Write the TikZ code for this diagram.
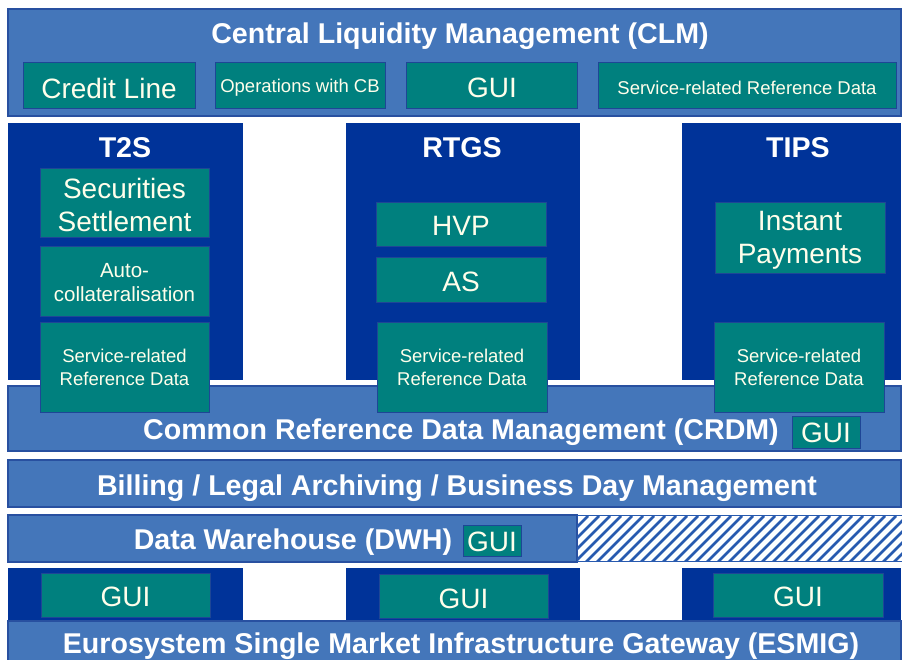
\documentclass[tikz,border=0pt]{standalone}
\usepackage{fontspec}
\setmainfont{Liberation Sans}
\begin{document}
\begin{tikzpicture}[x=1pt,y=-1pt,
  band/.style={draw=bandline,fill=bandblue,line width=1.2pt},
  dark/.style={fill=darkblue},
  teal/.style={draw=tealline,fill=tealc,line width=1pt},
  ttl/.style={text=white,font=\bfseries\fontsize{28.6}{32}\selectfont},
  big/.style={text=white!92!yellow,font=\fontsize{28}{33}\selectfont,align=center},
  mid/.style={text=white!92!yellow,font=\fontsize{20.5}{24}\selectfont,align=center},
  small/.style={text=white!92!yellow,font=\fontsize{18.5}{23}\selectfont,align=center}]
\definecolor{bandblue}{RGB}{68,118,186}
\definecolor{bandline}{RGB}{40,80,160}
\definecolor{darkblue}{RGB}{0,51,153}
\definecolor{tealc}{RGB}{0,128,126}
\definecolor{tealline}{RGB}{30,70,150}
\definecolor{hatch}{RGB}{40,90,175}
\useasboundingbox (0,0) rectangle (902,660);
\fill[white] (0,0) rectangle (902,660);
% CLM
\draw[band] (8,9) rectangle (901,116);
\node[ttl] (clm) at (460,36) {Central Liquidity Management (CLM)};
\draw[teal] (23,63) rectangle (195,109);
\node[big] (cl) at (109,88) {Credit Line};
\draw[teal] (215,63) rectangle (385,109);
\node[small] (ocb) at (300,88) {Operations with CB};
\draw[teal] (406,63) rectangle (577,109);
\node[big] (clmgui) at (492,88) {GUI};
\draw[teal] (598,63) rectangle (896,109);
\node[small] (clmsrd) at (747,88) {Service-related Reference Data};
% CRDM band (behind service boxes)
\draw[band] (8,386) rectangle (901,451);
% dark columns
\fill[dark] (8,123) rectangle (243,380);
\fill[dark] (346,123) rectangle (580,380);
\fill[dark] (682,123) rectangle (901,380);
\node[ttl] (t2s) at (125,148) {T2S};
\node[ttl] (rtgs) at (462,148) {RTGS};
\node[ttl] (tips) at (798,148) {TIPS};
% T2S
\draw[teal] (40,169) rectangle (209,238);
\node[big] (ss) at (124.5,205) {Securities\\Settlement};
\draw[teal] (40,247) rectangle (209,316);
\node[mid] (ac) at (124.5,283) {Auto-\\collateralisation};
\draw[teal] (40,322) rectangle (209,412);
\node[small] (t2ssrd) at (124.5,367) {Service-related\\Reference Data};
% RTGS
\draw[teal] (376,203) rectangle (546,247);
\node[big] (hvp) at (461,226) {HVP};
\draw[teal] (376,258) rectangle (546,303);
\node[big] (as) at (461,282) {AS};
\draw[teal] (377,322) rectangle (547,412);
\node[small] (rtgssrd) at (462,367) {Service-related\\Reference Data};
% TIPS
\draw[teal] (715,203) rectangle (885,274);
\node[big] (ip) at (800,240) {Instant\\Payments};
\draw[teal] (714,322) rectangle (884,412);
\node[small] (tipssrd) at (799,367) {Service-related\\Reference Data};
% CRDM title
\node[ttl] (crdm) at (461,432) {Common Reference Data Management (CRDM)};
\draw[teal] (792,416) rectangle (860,448);
\node[big] (crdmgui) at (826,433) {GUI};
% Billing
\draw[band] (8,460) rectangle (901,507);
\node[ttl] (bill) at (457,488) {Billing / Legal Archiving / Business Day Management};
% DWH
\draw[band] (8,515) rectangle (577,562);
\node[ttl] (dwh) at (293,542) {Data Warehouse (DWH)};
\draw[teal] (463,525) rectangle (521,556);
\node[big] (dwhgui) at (492,542) {GUI};
\begin{scope}
\clip (577,516) rectangle (902,561);
\foreach \i in {0,11,...,400} {
  \draw[hatch,line width=2.6pt] (577+\i-50,566) -- (577+\i,516);
}
\end{scope}
\draw[hatch,line width=1.2pt] (577,515.6) -- (902,515.6);
\draw[hatch,line width=1.2pt] (577,561.4) -- (902,561.4);
% GUI row
\fill[dark] (8,568) rectangle (243,621);
\fill[dark] (346,568) rectangle (580,621);
\fill[dark] (682,568) rectangle (901,621);
\draw[teal] (41,573) rectangle (210,617);
\node[big] (g1) at (125.5,597) {GUI};
\draw[teal] (379,574) rectangle (548,618);
\node[big] (g2) at (463.5,599) {GUI};
\draw[teal] (713,573) rectangle (883,617);
\node[big] (g3) at (798,597) {GUI};
% ESMIG
\draw[band] (8,621) rectangle (901,670);
\node[ttl] (esmig) at (461,646) {Eurosystem Single Market Infrastructure Gateway (ESMIG)};
\end{tikzpicture}
\end{document}
